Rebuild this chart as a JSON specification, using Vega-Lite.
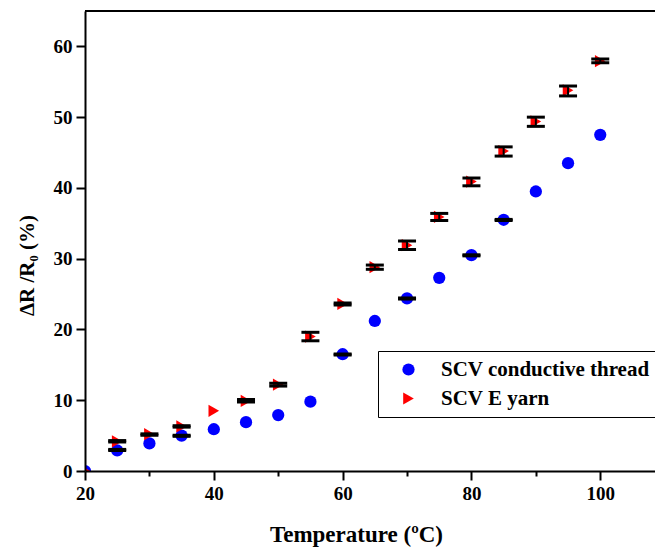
{
  "$schema": "https://vega.github.io/schema/vega-lite/v6.json",
  "width": 570,
  "height": 460,
  "autosize": {"type": "none"},
  "padding": {"left": 85, "top": 11, "right": 0, "bottom": 76},
  "background": "white",
  "config": {"view": {"stroke": null}, "font": "Liberation Serif"},
  "datasets": {
    "pts": [
      {"T": 20, "v": 0, "s": "SCV conductive thread"},
      {"T": 25, "v": 2.9, "s": "SCV conductive thread"},
      {"T": 30, "v": 3.9, "s": "SCV conductive thread"},
      {"T": 35, "v": 5.0, "s": "SCV conductive thread"},
      {"T": 40, "v": 5.9, "s": "SCV conductive thread"},
      {"T": 45, "v": 6.9, "s": "SCV conductive thread"},
      {"T": 50, "v": 7.9, "s": "SCV conductive thread"},
      {"T": 55, "v": 9.8, "s": "SCV conductive thread"},
      {"T": 60, "v": 16.5, "s": "SCV conductive thread"},
      {"T": 65, "v": 21.2, "s": "SCV conductive thread"},
      {"T": 70, "v": 24.4, "s": "SCV conductive thread"},
      {"T": 75, "v": 27.3, "s": "SCV conductive thread"},
      {"T": 80, "v": 30.5, "s": "SCV conductive thread"},
      {"T": 85, "v": 35.5, "s": "SCV conductive thread"},
      {"T": 90, "v": 39.5, "s": "SCV conductive thread"},
      {"T": 95, "v": 43.5, "s": "SCV conductive thread"},
      {"T": 100, "v": 47.5, "s": "SCV conductive thread"},
      {"T": 20, "v": 0, "s": "SCV E yarn"},
      {"T": 25, "v": 4.2, "s": "SCV E yarn"},
      {"T": 30, "v": 5.2, "s": "SCV E yarn"},
      {"T": 35, "v": 6.3, "s": "SCV E yarn"},
      {"T": 40, "v": 8.5, "s": "SCV E yarn"},
      {"T": 45, "v": 9.9, "s": "SCV E yarn"},
      {"T": 50, "v": 12.2, "s": "SCV E yarn"},
      {"T": 55, "v": 19.0, "s": "SCV E yarn"},
      {"T": 60, "v": 23.6, "s": "SCV E yarn"},
      {"T": 65, "v": 28.8, "s": "SCV E yarn"},
      {"T": 70, "v": 31.9, "s": "SCV E yarn"},
      {"T": 75, "v": 35.9, "s": "SCV E yarn"},
      {"T": 80, "v": 40.9, "s": "SCV E yarn"},
      {"T": 85, "v": 45.2, "s": "SCV E yarn"},
      {"T": 90, "v": 49.4, "s": "SCV E yarn"},
      {"T": 95, "v": 53.8, "s": "SCV E yarn"},
      {"T": 100, "v": 57.9, "s": "SCV E yarn"}
    ],
    "err": [
      {"T": 25, "lo": 2.9, "hi": 3.05},
      {"T": 35, "lo": 4.9, "hi": 5.05},
      {"T": 60, "lo": 16.4, "hi": 16.55},
      {"T": 70, "lo": 24.3, "hi": 24.45},
      {"T": 80, "lo": 30.4, "hi": 30.55},
      {"T": 85, "lo": 35.4, "hi": 35.55},
      {"T": 25, "lo": 4.1, "hi": 4.3},
      {"T": 30, "lo": 5.05, "hi": 5.25},
      {"T": 35, "lo": 6.2, "hi": 6.4},
      {"T": 45, "lo": 9.75, "hi": 10.1},
      {"T": 50, "lo": 12.0, "hi": 12.4},
      {"T": 55, "lo": 18.4, "hi": 19.6},
      {"T": 60, "lo": 23.45, "hi": 23.75},
      {"T": 65, "lo": 28.5, "hi": 29.1},
      {"T": 70, "lo": 31.3, "hi": 32.5},
      {"T": 75, "lo": 35.4, "hi": 36.4},
      {"T": 80, "lo": 40.3, "hi": 41.4},
      {"T": 85, "lo": 44.5, "hi": 45.8},
      {"T": 90, "lo": 48.7, "hi": 50.0},
      {"T": 95, "lo": 53.0, "hi": 54.4},
      {"T": 100, "lo": 57.7, "hi": 58.2}
    ]
  },
  "layer": [
    {
      "data": {"name": "pts"},
      "mark": {"type": "point", "filled": true, "opacity": 1, "size": 150, "strokeWidth": 0, "clip": true},
      "encoding": {
        "x": {
          "field": "T", "type": "quantitative", "title": "Temperature (ºC)",
          "scale": {"domain": [20, 108.5], "nice": false, "zero": false},
          "axis": {
            "values": [20, 30, 40, 50, 60, 70, 80, 90, 100],
            "labelExpr": "datum.value % 20 == 0 ? datum.label : ''",
            "tickSize": {"condition": {"test": "datum.value % 20 == 0", "value": 9}, "value": 5},
            "tickWidth": 2, "tickColor": "black",
            "domainWidth": 2, "domainColor": "black",
            "labelFont": "Liberation Serif", "labelFontSize": 19, "labelFontWeight": "bold", "labelColor": "black",
            "labelPadding": 4, "labelFlush": false, "labelOverlap": false,
            "titleFont": "Liberation Serif", "titleFontSize": 23, "titleFontWeight": "bold", "titleColor": "black",
            "titleX": 271, "titleY": 63, "titleBaseline": "middle", "titleAlign": "center",
            "grid": false, "zindex": 1
          }
        },
        "y": {
          "field": "v", "type": "quantitative", "title": "ΔR /R₀ (%)",
          "scale": {"domain": [0, 65], "nice": false},
          "axis": {
            "values": [0, 5, 10, 15, 20, 25, 30, 35, 40, 45, 50, 55, 60],
            "labelExpr": "datum.value % 10 == 0 ? datum.label : ''",
            "tickSize": {"condition": {"test": "datum.value % 10 == 0", "value": 9}, "value": 5},
            "tickWidth": 2, "tickColor": "black",
            "domainWidth": 2, "domainColor": "black",
            "labelFont": "Liberation Serif", "labelFontSize": 19, "labelFontWeight": "bold", "labelColor": "black",
            "labelPadding": 4, "labelFlush": false, "labelOverlap": false,
            "titleFont": "Liberation Serif", "titleFontSize": 21, "titleFontWeight": "bold", "titleColor": "black",
            "titleX": -58, "titleY": 254, "titleAngle": -90, "titleBaseline": "middle", "titleAlign": "center",
            "grid": false, "zindex": 1
          }
        },
        "color": {
          "field": "s", "type": "nominal",
          "scale": {"domain": ["SCV conductive thread", "SCV E yarn"], "range": ["#0000ff", "#ff0000"]},
          "legend": {
            "orient": "none", "legendX": 293, "legendY": 340,
            "title": null,
            "strokeColor": "black", "fillColor": "white", "padding": 8,
            "symbolOffset": 12, "symbolSize": 150, "symbolStrokeWidth": 0,
            "labelFont": "Liberation Serif", "labelFontSize": 21, "labelFontWeight": "bold", "labelColor": "black",
            "labelOffset": 22, "rowPadding": 7, "labelLimit": 400
          }
        },
        "shape": {
          "field": "s", "type": "nominal",
          "scale": {"domain": ["SCV conductive thread", "SCV E yarn"], "range": ["circle", "triangle-right"]}
        }
      }
    },
    {
      "data": {"values": [{"top": 65}]},
      "mark": {"type": "rule", "color": "black", "strokeWidth": 2},
      "encoding": {"y": {"field": "top", "type": "quantitative", "title": "ΔR /R₀ (%)"}}
    },
    {
      "data": {"name": "err"},
      "mark": {"type": "rule", "color": "black", "strokeWidth": 2},
      "encoding": {
        "x": {"field": "T", "type": "quantitative", "title": "Temperature (ºC)"},
        "y": {"field": "lo", "type": "quantitative", "title": "ΔR /R₀ (%)"},
        "y2": {"field": "hi"}
      }
    },
    {
      "data": {"name": "err"},
      "mark": {"type": "tick", "orient": "horizontal", "color": "black", "size": 18, "thickness": 3, "opacity": 1},
      "encoding": {
        "x": {"field": "T", "type": "quantitative", "title": "Temperature (ºC)"},
        "y": {"field": "lo", "type": "quantitative", "title": "ΔR /R₀ (%)"}
      }
    },
    {
      "data": {"name": "err"},
      "mark": {"type": "tick", "orient": "horizontal", "color": "black", "size": 18, "thickness": 3, "opacity": 1},
      "encoding": {
        "x": {"field": "T", "type": "quantitative", "title": "Temperature (ºC)"},
        "y": {"field": "hi", "type": "quantitative", "title": "ΔR /R₀ (%)"}
      }
    }
  ]
}
